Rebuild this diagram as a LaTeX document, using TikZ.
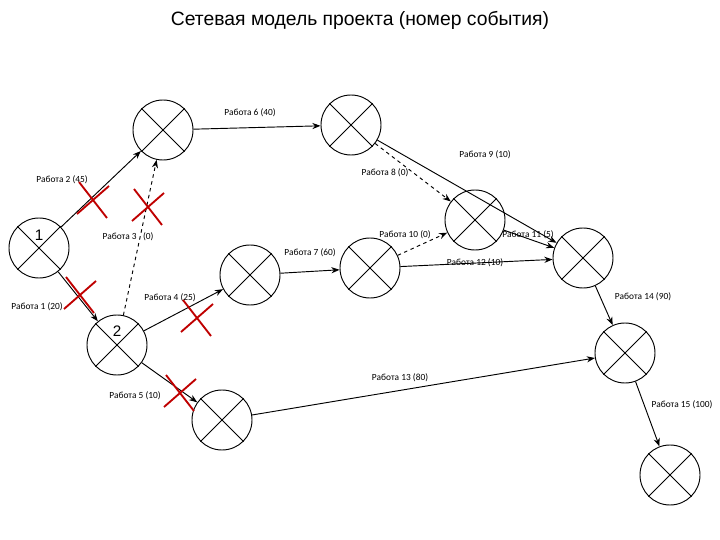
\documentclass[tikz,border=0pt]{standalone}
\usepackage{fontspec}
\setmainfont{Liberation Sans}
\newfontfamily\lbl{Carlito}
\usetikzlibrary{arrows.meta}
\begin{document}
\begin{tikzpicture}[x=0.03cm,y=-0.03cm,
  ev/.style={circle,draw,thick,minimum size=1.8cm,inner sep=0pt},
  ed/.style={thick,-{Stealth[length=7pt]}},
  dum/.style={ed,dashed},
  lb/.style={font=\lbl\fontsize{8}{9}\selectfont,inner sep=1pt},
  rx/.style={draw=red!75!black,line width=1.6pt}]
\useasboundingbox (0,0) rectangle (720,540);
\node at (360,20) {\fontsize{16.5}{18}\selectfont Сетевая модель проекта (номер события)};
\foreach \n/\x/\y in {1/39/248,2/117/345,3/163/130,4/351/125,5/250/275,6/370/268,7/475/220,8/583/258,9/625/353,10/222/420,11/670/475}{
  \node[ev] (n\n) at (\x,\y) {};
  \draw[thick] (n\n.north west)--(n\n.south east) (n\n.north east)--(n\n.south west);
}
\node[fill=white,inner sep=1pt,font=\fontsize{13}{14}\selectfont] (t1) at (39,235) {1};
\node[fill=white,inner sep=1pt,font=\fontsize{13}{14}\selectfont] (t2) at (117,331) {2};
\draw[ed] (n1)--(n3);
\draw[ed] (n1)--(n2);
\draw[dum] (n2)--(n3);
\draw[ed] (n2)--(n5);
\draw[ed] (n2)--(n10);
\draw[ed] (n3)--(n4);
\draw[dum] (n4)--(n7);
\draw[ed] (n4)--(n8);
\draw[ed] (n5)--(n6);
\draw[dum] (n6)--(n7);
\draw[ed] (n7)--(n8);
\draw[ed] (n6)--(n8);
\draw[ed] (n8)--(n9);
\draw[ed] (n10)--(n9);
\draw[ed] (n9)--(n11);
\node[lb] (l2) at (62,180) {Работа 2 (45)};
\node[lb] (l1) at (37,307) {Работа 1 (20)};
\node[lb] (l3) at (128,237) {Работа 3 \ \ (0)};
\node[lb] (l4) at (170,298) {Работа 4 (25)};
\node[lb] (l5) at (135,396) {Работа 5 (10)};
\node[lb] (l6) at (250,113) {Работа 6 (40)};
\node[lb] (l8) at (385,173) {Работа 8 (0)};
\node[lb] (l9) at (485,155) {Работа 9 (10)};
\node[lb] (l7) at (310,253) {Работа 7 (60)};
\node[lb] (l10) at (405,235) {Работа 10 (0)};
\node[lb] (l11) at (528,235) {Работа 11 (5)};
\node[lb] (l12) at (475,263) {Работа 12 (10)};
\node[lb] (l14) at (643,297) {Работа 14 (90)};
\node[lb] (l13) at (400,378) {Работа 13 (80)};
\node[lb] (l15) at (682,405) {Работа 15 (100)};
\foreach \x/\y in {93/200,148/207,80/295,197/318,180/393}{
  \draw[rx] (\x-14,\y-18)--(\x+14,\y+18) (\x-16,\y+14)--(\x+16,\y-14);
}
\end{tikzpicture}
\end{document}
